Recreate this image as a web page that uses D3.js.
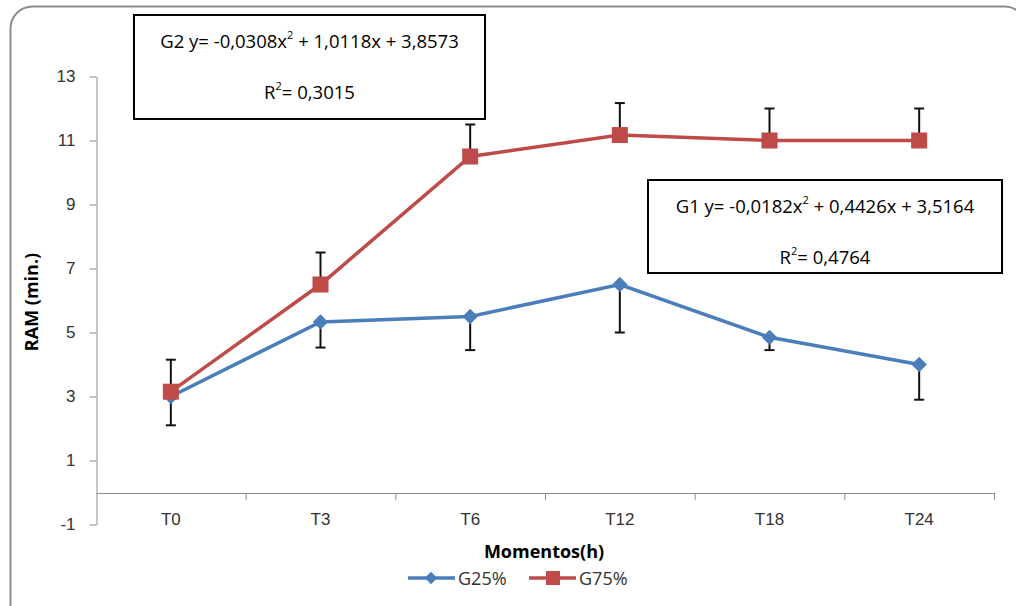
<!DOCTYPE html>
<html>
<head>
<meta charset="utf-8">
<script src="https://cdn.jsdelivr.net/npm/d3@7"></script>
<style>
  body { margin: 0; background: #fff; }
  svg { font-family: 'Open Sans', sans-serif; }
</style>
</head>
<body>
<svg id="mainsvg" width="1016" height="606"></svg>
<script>
(function () {
  // categories and series
  const categories = ['T0', 'T3', 'T6', 'T12', 'T18', 'T24'];
  const g25 = [3.0, 5.33, 5.5, 6.5, 4.85, 4.0];
  const g25Err = [0.9, 0.8, 1.05, 1.5, 0.4, 1.1];   // minus bars
  const g75 = [3.15, 6.5, 10.5, 11.17, 11.0, 11.0];
  const g75Err = [1.0, 1.0, 1.0, 1.0, 1.0, 1.0];    // plus bars
  const yTicks = [-1, 1, 3, 5, 7, 9, 11, 13];

  const svg = d3.select('#mainsvg');

  // outer chart border (runs off the right and bottom edges)
  svg.append('rect')
    .attr('x', 10.5).attr('y', 6.5)
    .attr('width', 1016).attr('height', 640)
    .attr('rx', 22)
    .attr('fill', 'none')
    .attr('stroke', '#8c8c8c')
    .attr('stroke-width', 2);

  const x = d3.scaleBand().domain(categories).range([96, 994]);
  const y = d3.scaleLinear().domain([-1, 13]).range([524.5, 76.5]);
  const cx = c => x(c) + x.bandwidth() / 2;

  // y axis
  const yAxis = d3.axisLeft(y).tickValues(yTicks).tickFormat(d => String(d))
    .tickSize(7).tickSizeOuter(0).tickPadding(14);
  const gy = svg.append('g').attr('transform', 'translate(96.5,0)').call(yAxis);
  gy.select('.domain').attr('stroke', '#8c8c8c');
  gy.selectAll('.tick line').attr('stroke', '#8c8c8c');
  gy.selectAll('.tick text').attr('font-size', '17px').attr('fill', '#333');

  // x axis at y = 0
  const xAxis = d3.axisBottom(x).tickSize(0).tickPadding(20);
  const gx = svg.append('g').attr('transform', `translate(0,${y(0) + 0.5})`).call(xAxis);
  gx.select('.domain').attr('stroke', '#8c8c8c');
  gx.selectAll('.tick text').attr('font-size', '17px').attr('fill', '#333');
  categories.forEach(c => {
    gx.append('line')
      .attr('x1', x(c) + x.bandwidth() + 0.5).attr('x2', x(c) + x.bandwidth() + 0.5)
      .attr('y1', 0).attr('y2', 7)
      .attr('stroke', '#8c8c8c');
  });

  // error bars
  function errBars(vals, errs, sign) {
    const g = svg.append('g').attr('stroke', '#111').attr('stroke-width', 2);
    categories.forEach((c, i) => {
      const x0 = cx(c), y0 = y(vals[i]), y1 = y(vals[i] + sign * errs[i]);
      g.append('line').attr('x1', x0).attr('x2', x0).attr('y1', y0).attr('y2', y1);
      g.append('line').attr('x1', x0 - 5).attr('x2', x0 + 5).attr('y1', y1).attr('y2', y1);
    });
  }
  errBars(g25, g25Err, -1);
  errBars(g75, g75Err, 1);

  const line = d3.line().x((d, i) => cx(categories[i])).y(d => y(d));
  const blue = '#4a7ebb', red = '#be4b48';

  svg.append('path').datum(g25).attr('d', line)
    .attr('fill', 'none').attr('stroke', blue).attr('stroke-width', 3.5);
  svg.append('path').datum(g75).attr('d', line)
    .attr('fill', 'none').attr('stroke', red).attr('stroke-width', 3.5);

  const diamond = d3.symbol().type(d3.symbolDiamond2).size(150);
  svg.append('g').selectAll('path').data(g25).join('path')
    .attr('d', diamond)
    .attr('transform', (d, i) => `translate(${cx(categories[i])},${y(d)})`)
    .attr('fill', blue);
  svg.append('g').selectAll('rect').data(g75).join('rect')
    .attr('x', (d, i) => cx(categories[i]) - 8)
    .attr('y', d => y(d) - 8)
    .attr('width', 16).attr('height', 16)
    .attr('fill', red);

  // equation boxes
  function eqBox(x0, y0, w, h, label, a, b, c, r2) {
    const g = svg.append('g');
    g.append('rect').attr('x', x0).attr('y', y0).attr('width', w).attr('height', h)
      .attr('fill', '#fff').attr('stroke', '#000').attr('stroke-width', 2);
    const t1 = g.append('text').attr('x', x0 + w / 2).attr('y', y0 + 33)
      .attr('text-anchor', 'middle').attr('font-size', '18.5px').attr('fill', '#000');
    t1.append('tspan').text(`${label} y= ${a}x`);
    t1.append('tspan').text('2').attr('font-size', '11px').attr('dy', -9);
    t1.append('tspan').text(` + ${b}x + ${c}`).attr('dy', 9);
    const t2 = g.append('text').attr('x', x0 + w / 2).attr('y', y0 + 84)
      .attr('text-anchor', 'middle').attr('font-size', '18.5px').attr('fill', '#000');
    t2.append('tspan').text('R');
    t2.append('tspan').text('2').attr('font-size', '11px').attr('dy', -9);
    t2.append('tspan').text(`= ${r2}`).attr('dy', 9);
  }
  eqBox(134, 15, 351, 104, 'G2', '-0,0308', '1,0118', '3,8573', '0,3015');
  eqBox(648, 180, 354, 93, 'G1', '-0,0182', '0,4426', '3,5164', '0,4764');

  // axis titles
  svg.append('text')
    .attr('transform', 'translate(38,302) rotate(-90)')
    .attr('text-anchor', 'middle').attr('font-size', '18px').attr('font-weight', 'bold')
    .attr('fill', '#000').text('RAM (min.)');
  svg.append('text')
    .attr('x', 544).attr('y', 558)
    .attr('text-anchor', 'middle').attr('font-size', '18px').attr('font-weight', 'bold')
    .attr('fill', '#000').text('Momentos(h)');

  // legend
  const leg = svg.append('g').attr('transform', 'translate(0,578)');
  const items = [{ name: 'G25%', color: blue, x: 408 }, { name: 'G75%', color: red, x: 529 }];
  items.forEach((it, i) => {
    leg.append('line').attr('x1', it.x).attr('x2', it.x + 47).attr('y1', 0).attr('y2', 0)
      .attr('stroke', it.color).attr('stroke-width', 3.5);
    if (i === 0) {
      leg.append('path').attr('d', d3.symbol().type(d3.symbolDiamond2).size(100)())
        .attr('transform', `translate(${it.x + 23},0)`).attr('fill', it.color);
    } else {
      leg.append('rect').attr('x', it.x + 17).attr('y', -7).attr('width', 14).attr('height', 14)
        .attr('fill', it.color);
    }
    leg.append('text').attr('x', it.x + 50).attr('y', 6.5).attr('font-size', '18px')
      .attr('fill', '#333').text(it.name);
  });
})();
</script>
</body>
</html>
